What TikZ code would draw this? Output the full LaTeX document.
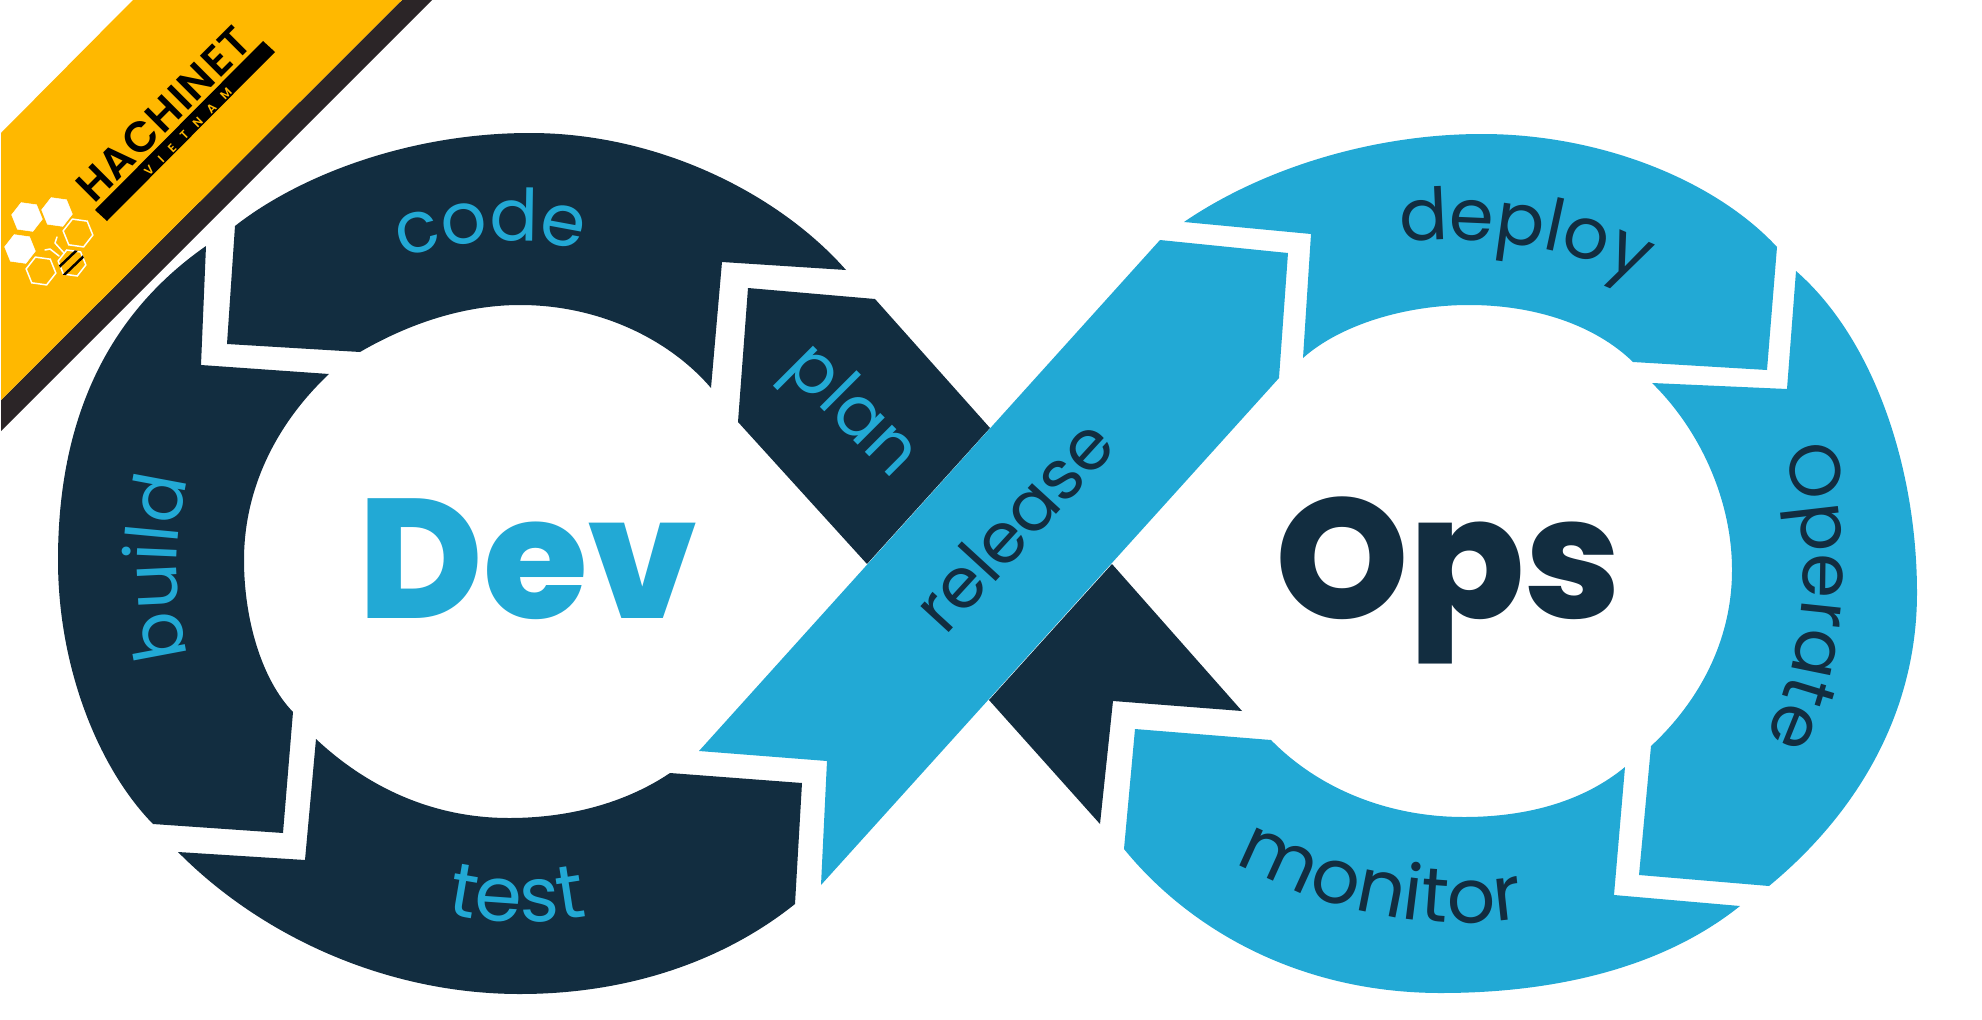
\documentclass[tikz,border=0pt]{standalone}
\usepackage{fontspec}
\setmainfont{Poppins}
\newfontfamily\heavyfont{Poppins}[UprightFont={* ExtraBold}]
\newfontfamily\logofont{Poppins}[UprightFont={* SemiBold},LetterSpace=3]
\newfontfamily\logosmall{Poppins}[UprightFont={* SemiBold},LetterSpace=90]
\usetikzlibrary{decorations.text,shapes.geometric}
\definecolor{navy}{HTML}{122D40}
\definecolor{sky}{HTML}{22A9D5}
\definecolor{amber}{HTML}{FFB800}
\definecolor{band}{HTML}{2B2527}
\tikzset{
  navyshape/.style={fill=navy,draw=none},
  skyshape/.style={fill=sky,draw=none},
  hexsolid/.style={regular polygon,regular polygon sides=6,minimum size=31pt,inner sep=0pt,rotate=-8,fill=white,draw=white,line width=0.5pt},
  hexhollow/.style={regular polygon,regular polygon sides=6,minimum size=30pt,inner sep=0pt,rotate=-8,draw=white,line width=1.5pt},
  straightlabel/.style={inner sep=0pt,anchor=base,font=\fontsize{70}{70}\selectfont},
}
\newcommand{\ringlabel}[3]{\path[decorate,decoration={text along path,text align=center,text={|\fontsize{#1}{#1}\selectfont\color{#2}|#3}}]}
\begin{document}
\begin{tikzpicture}[x=1pt,y=-1pt]
\useasboundingbox (0,0) rectangle (1982,1020);
\fill[white] (0,0) rectangle (1982,1020);
% ribbon
\fill[band] (402,0) -- (432,0) -- (1,431) -- (1,400) -- cycle;
\fill[amber] (133,0) -- (402,0) -- (1,400) -- (1,133) -- cycle;
\fill[black] (95,210) -- (107,221) -- (275,52) -- (263,41) -- cycle;
\node[inner sep=0pt,anchor=base,rotate=45,font=\logofont\fontsize{43}{43}\selectfont,text=black] (brand) at (174,125) {HACHINET};
\node[inner sep=0pt,rotate=45,font=\logosmall\fontsize{12}{12}\selectfont,text=amber] (country) at (188,132) {VIETNAM};
\node[hexsolid] (h1) at (27,217) {};
\node[hexsolid] (h2) at (57,212) {};
\node[hexsolid] (h3) at (20,249) {};
\node[hexhollow] (h4) at (78,233) {};
\node[hexhollow] (h5) at (41,271) {};
\begin{scope}
\node[hexhollow,minimum size=28pt,fill=amber] (bee) at (72,263) {};
\clip (bee.corner 1) -- (bee.corner 2) -- (bee.corner 3) -- (bee.corner 4) -- (bee.corner 5) -- (bee.corner 6) -- cycle;
\draw[black,line width=2.5pt] (58,268) -- (78,249);
\draw[black,line width=2.5pt] (63,276) -- (86,254);
\end{scope}
\draw[white,line width=1.5pt,line cap=round,line join=round] (57,237) -- (55,243) -- (64,253);
\draw[white,line width=1.5pt,line cap=round,line join=round] (45,250) -- (50,249) -- (59,256);
% dev loop
\fill[navyshape] (235,226) .. controls (300,175) and (410,133) .. (530,133) .. controls (660,133) and (780,195) .. (846,270) -- (722,262) -- (711,388) .. controls (670,340) and (600,305) .. (520,305) .. controls (465,305) and (410,323) .. (360,352) -- (227,344) -- cycle;
\fill[navyshape] (206,246) .. controls (100,320) and (58,430) .. (58,560) .. controls (58,670) and (100,770) .. (153,824) -- (283,833) -- (293,712) .. controls (262,680) and (244,620) .. (244,560) .. controls (244,490) and (275,425) .. (329,374) -- (201,365) -- cycle;
\fill[navyshape] (316,739) .. controls (365,785) and (430,818) .. (509,818) .. controls (575,818) and (630,800) .. (670,773) -- (802,783) -- (795,904) .. controls (725,960) and (630,994) .. (520,994) .. controls (385,994) and (260,935) .. (178,852) -- (305,860) -- cycle;
\fill[navyshape] (748,288) -- (875,299) -- (990,428) -- (867,564) -- (738,422) -- cycle;
\fill[navyshape] (1112,564) -- (1242,711) -- (1113,701) -- (1100,824) -- (989,700) -- cycle;
% ops loop
\fill[skyshape] (1160,240) -- (1288,253) -- (1279,378) -- (821,885) -- (827,761) -- (699,751) -- cycle;
\fill[skyshape] (1184,222) .. controls (1260,170) and (1370,134) .. (1482,134) .. controls (1600,134) and (1715,180) .. (1777,247) -- (1767,370) -- (1633,362) .. controls (1595,325) and (1535,305) .. (1469,305) .. controls (1405,305) and (1340,325) .. (1303,358) -- (1311,234) -- cycle;
\fill[skyshape] (1796,271) .. controls (1875,340) and (1917,470) .. (1917,593) .. controls (1917,715) and (1855,815) .. (1769,886) -- (1639,875) -- (1651,746) .. controls (1690,710) and (1732,650) .. (1732,570) .. controls (1732,500) and (1700,430) .. (1652,383) -- (1787,389) -- cycle;
\fill[skyshape] (1135,729) -- (1271,740) .. controls (1320,790) and (1390,817) .. (1464,817) .. controls (1530,817) and (1585,800) .. (1625,767) -- (1614,895) -- (1740,906) .. controls (1660,970) and (1550,993) .. (1441,993) .. controls (1300,993) and (1190,930) .. (1124,849) -- cycle;
% labels
\ringlabel{72}{sky}{code} (398,260) .. controls (450,240) and (530,234) .. (585,252);
\ringlabel{72}{sky}{build} (192,669) .. controls (172,604) and (172,534) .. (192,466);
\ringlabel{76}{sky}{test} (438,912) .. controls (485,924) and (555,926) .. (596,914);
\ringlabel{72}{navy}{deploy} (1391,243) .. controls (1463,235) and (1563,240) .. (1648,286);
\ringlabel{72}{navy}{Operate} (1777,440) .. controls (1813,520) and (1816,640) .. (1760,750);
\ringlabel{76}{navy}{monitor} (1232,860) .. controls (1310,905) and (1420,935) .. (1528,918);
\node[straightlabel,rotate=-45,text=sky] (plan) at (838,425) {plan};
\node[straightlabel,rotate=47.5,text=navy] (release) at (1032,542) {release};
\node[inner sep=0pt,anchor=base west,font=\heavyfont\fontsize{170}{170}\selectfont,text=sky] (dev) at (358,618) {Dev};
\node[inner sep=0pt,anchor=base west,font=\heavyfont\fontsize{170}{170}\selectfont,text=navy] (ops) at (1275,618) {Ops};
\end{tikzpicture}
\end{document}
